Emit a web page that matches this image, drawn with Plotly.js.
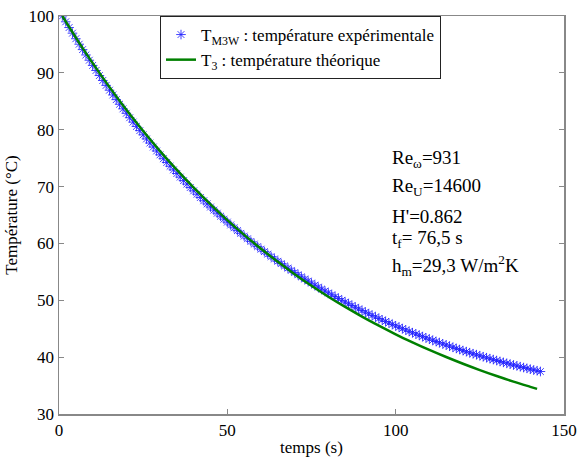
<!DOCTYPE html>
<html>
<head>
<meta charset="utf-8">
<script src="https://cdn.plot.ly/plotly-3.0.1.min.js"></script>
<style>html,body{margin:0;padding:0;background:#fff;}#chart{width:577px;height:457px;}</style>
</head>
<body>
<div id="chart"></div>
<script>
// Experimental temperature T_M3W, one reading per second from t = 1 s to t = 143 s
var expStart = 1;
var expTemp = [
100.00,98.98,97.97,96.98,96.00,95.04,94.09,93.15,92.22,91.31,
90.42,89.53,88.66,87.80,86.95,86.11,85.29,84.48,83.67,82.89,
82.11,81.34,80.58,79.84,79.10,78.38,77.66,76.96,76.26,75.58,
74.90,74.24,73.58,72.94,72.30,71.67,71.05,70.44,69.84,69.25,
68.66,68.08,67.51,66.95,66.40,65.86,65.32,64.79,64.27,63.75,
63.25,62.75,62.25,61.77,61.29,60.82,60.35,59.89,59.44,58.99,
58.56,58.12,57.69,57.27,56.86,56.45,56.04,55.65,55.26,54.87,
54.49,54.11,53.74,53.38,53.02,52.66,52.31,51.97,51.63,51.29,
50.96,50.64,50.31,50.00,49.69,49.38,49.07,48.78,48.48,48.19,
47.91,47.62,47.34,47.07,46.80,46.53,46.27,46.01,45.76,45.50,
45.26,45.01,44.77,44.53,44.30,44.07,43.84,43.61,43.39,43.17,
42.96,42.75,42.54,42.33,42.13,41.93,41.73,41.53,41.34,41.15,
40.97,40.78,40.60,40.42,40.25,40.07,39.90,39.73,39.57,39.40,
39.24,39.08,38.92,38.77,38.62,38.47,38.32,38.17,38.03,37.88,
37.74,37.61,37.47
];
var expTime = expTemp.map(function(v, i){ return expStart + i; });

// Theoretical temperature T_3
var theoTime = [1,3,6,10,15,20,25,30,35,40,45,50,55,60,65,70,75,80,85,90,95,100,105,110,115,120,125,130,135,140,142];
var theoTemp = [100.00,98.08,95.28,91.71,87.49,83.50,79.76,76.24,72.93,69.81,66.87,64.11,61.51,59.06,56.76,54.59,52.55,50.63,48.83,47.13,45.53,44.02,42.61,41.27,40.02,38.84,37.73,36.68,35.70,34.78,34.42];

var xTicks = [0,50,100,150];
var yTicks = [30,40,50,60,70,80,90,100];

var legendNames = ['T<sub>M3W</sub> : température expérimentale', 'T<sub>3</sub> : température théorique'];
var infoLines = ['Re<sub>ω</sub>=931', 'Re<sub>U</sub>=14600', "H'=0.862", 't<sub>f</sub>= 76,5 s', 'h<sub>m</sub>=29,3 W/m<sup>2</sup>K'];
var infoY = [0.641, 0.570, 0.497, 0.440, 0.372];

var serif = '"Liberation Serif", "Times New Roman", Times, serif';

var traces = [
  {x: expTime, y: expTemp, mode: 'markers', type: 'scatter', name: legendNames[0],
   marker: {symbol: 'asterisk-open', size: 8, color: 'rgba(30,30,255,0.85)', line: {width: 1, color: 'rgba(30,30,255,0.85)'}}},
  {x: theoTime, y: theoTemp, mode: 'lines', type: 'scatter', name: legendNames[1],
   line: {color: '#008000', width: 2.5, shape: 'spline'}}
];

var annotations = infoLines.map(function(t, i){
  return {text: t, xref: 'paper', yref: 'paper', x: 0.655, y: infoY[i], xanchor: 'left', yanchor: 'middle',
          showarrow: false, font: {family: serif, size: 19, color: '#000'}};
});

var layout = {
  width: 577, height: 457,
  margin: {l: 59, r: 13, t: 16, b: 43},
  paper_bgcolor: '#fff', plot_bgcolor: '#fff',
  font: {family: serif, size: 17, color: '#000'},
  showlegend: true,
  legend: {x: 0.2, y: 1, xanchor: 'left', yanchor: 'top', bgcolor: '#fff', bordercolor: '#222', borderwidth: 1,
           font: {family: serif, size: 17, color: '#000'}, tracegroupgap: 0},
  xaxis: {range: [0, 150], tickvals: xTicks, ticktext: xTicks.map(String), ticks: 'inside', ticklen: 5,
          tickcolor: '#888', showline: true, linecolor: '#888', linewidth: 1.5, mirror: 'ticks', showgrid: false, zeroline: false,
          tickfont: {family: serif, size: 17},
          title: {text: 'temps (s)', font: {family: serif, size: 17}, standoff: 2}},
  yaxis: {range: [30, 100], tickvals: yTicks, ticktext: yTicks.map(String), ticks: 'inside', ticklen: 5,
          tickcolor: '#888', showline: true, linecolor: '#888', linewidth: 1.5, mirror: 'ticks', showgrid: false, zeroline: false,
          tickfont: {family: serif, size: 17},
          title: {text: 'Température (°C)', font: {family: serif, size: 17}, standoff: 6}},
  annotations: annotations
};

Plotly.newPlot('chart', traces, layout, {displayModeBar: false, staticPlot: true});
</script>
</body>
</html>
